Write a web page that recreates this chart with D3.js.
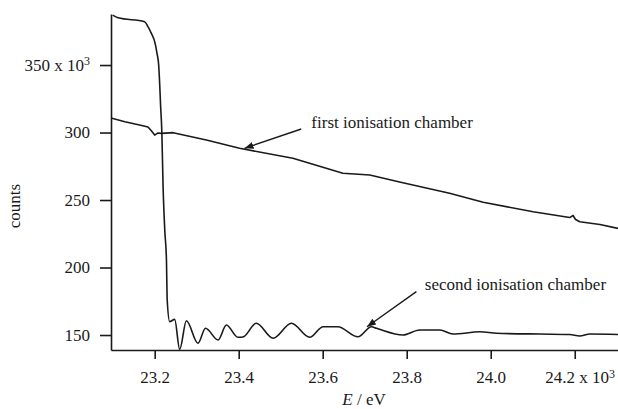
<!DOCTYPE html>
<html>
<head>
<meta charset="utf-8">
<script src="https://cdn.jsdelivr.net/npm/d3@7"></script>
<style>
  body { margin: 0; background: #fff; }
  text { font-family: "Liberation Serif", "Times New Roman", serif; fill: #1a1a1a; }
</style>
</head>
<body>
<script>
// first ionisation chamber (E in keV, counts in 10^3)
var firstE      = [23.096, 23.129, 23.164, 23.184, 23.192, 23.200, 23.207, 23.216, 23.244, 23.323, 23.402, 23.529, 23.648, 23.712, 23.783, 23.902, 23.982, 24.101, 24.188, 24.196, 24.202, 24.212, 24.260, 24.303];
var firstCounts = [310.7, 308.0, 305.6, 304.1, 301.3, 298.1, 299.6, 299.4, 299.9, 294.4, 288.3, 280.9, 269.8, 268.5, 263.3, 255.0, 248.3, 241.3, 237.0, 238.5, 235.6, 233.9, 231.9, 229.0];

// second ionisation chamber
var secondE      = [23.100, 23.113, 23.176, 23.184, 23.192, 23.200, 23.2055, 23.2095, 23.212, 23.214, 23.217, 23.220, 23.224, 23.228, 23.2298, 23.2357, 23.2476, 23.2595, 23.2755, 23.303, 23.321, 23.351, 23.3707, 23.398, 23.410, 23.442, 23.482, 23.5255, 23.569, 23.601, 23.636, 23.684, 23.716, 23.728, 23.791, 23.831, 23.879, 23.910, 23.974, 24.014, 24.117, 24.188, 24.212, 24.236, 24.303];
var secondCounts = [387.0, 385.0, 382.1, 378.4, 373.5, 367.3, 358.7, 350.0, 335.2, 320.4, 300.6, 259.9, 227.8, 205.6, 175.9, 159.9, 161.6, 139.4, 160.6, 143.9, 155.0, 146.3, 157.4, 148.3, 148.5, 158.7, 147.6, 158.7, 148.3, 156.1, 156.1, 148.7, 156.1, 155.0, 150.0, 153.7, 153.7, 150.7, 152.4, 151.3, 150.7, 150.4, 149.3, 150.7, 150.4];

var xTicks = [23.2, 23.4, 23.6, 23.8, 24.0, 24.2];
var yTicks = [150, 200, 250, 300, 350];

// annotations: label, label anchor, arrow tail, arrow head (data coords)
var annotLabels = ["first ionisation chamber", "second ionisation chamber"];
var annotText   = [[23.573, 303.6], [23.843, 183.3]];
var annotTail   = [[23.549, 302.6], [23.823, 182.1]];
var annotHead   = [[23.414, 288.3], [23.7055, 156.1]];

var width = 618, height = 409;

var svg = d3.select('body').append('svg')
    .attr('width', width)
    .attr('height', height);

var x = d3.scaleLinear().domain([23.096, 24.303]).range([111, 618]);
var y = d3.scaleLinear().domain([138.9, 387.8]).range([350, 14]);

svg.append('defs').append('marker')
    .attr('id', 'arrow')
    .attr('markerUnits', 'userSpaceOnUse')
    .attr('markerWidth', 10)
    .attr('markerHeight', 8)
    .attr('refX', 9)
    .attr('refY', 4)
    .attr('orient', 'auto')
  .append('path')
    .attr('d', 'M0,0.5 L9,4 L0,7.5 Z')
    .attr('fill', '#1a1a1a');

// axes
var yAxis = svg.append('g')
    .attr('transform', 'translate(111,0)')
    .call(d3.axisLeft(y).tickValues(yTicks).tickSize(11).tickSizeOuter(0).tickPadding(10));

var xAxis = svg.append('g')
    .attr('transform', 'translate(0,350)')
    .call(d3.axisBottom(x).tickValues(xTicks).tickSize(9).tickSizeOuter(0).tickPadding(12)
      .tickFormat(d3.format('.1f')));

[yAxis, xAxis].forEach(function(ax) {
  ax.select('.domain').attr('stroke', '#1a1a1a').attr('stroke-width', 1.6);
  ax.selectAll('.tick line').attr('stroke', '#1a1a1a').attr('stroke-width', 1.6);
  ax.selectAll('.tick text')
    .attr('font-family', '"Liberation Serif", "Times New Roman", serif')
    .attr('font-size', 17)
    .attr('fill', '#1a1a1a');
});

// "x 10^3" on the top y tick and the last x tick
yAxis.selectAll('.tick text').filter(function(d) { return d === 350; })
    .text(null)
    .call(function(t) {
      t.append('tspan').text('350 x 10');
      t.append('tspan').attr('dy', '-0.5em').attr('font-size', 12).text('3');
    });

xAxis.selectAll('.tick text').filter(function(d) { return d === 24.2; })
    .text(null)
    .attr('text-anchor', 'start')
    .attr('x', -30)
    .call(function(t) {
      t.append('tspan').text('24.2 x 10');
      t.append('tspan').attr('dy', '-0.45em').attr('font-size', 12).text('3');
    });

// curves
var line = d3.line()
    .x(function(d) { return x(d[0]); })
    .y(function(d) { return y(d[1]); });

svg.append('path')
    .datum(d3.zip(firstE, firstCounts))
    .attr('fill', 'none')
    .attr('stroke', '#1a1a1a')
    .attr('stroke-width', 1.6)
    .attr('stroke-linejoin', 'round')
    .attr('d', line);

svg.append('path')
    .datum(d3.zip(secondE, secondCounts))
    .attr('fill', 'none')
    .attr('stroke', '#1a1a1a')
    .attr('stroke-width', 1.6)
    .attr('stroke-linejoin', 'round')
    .attr('d', line.curve(d3.curveMonotoneX));

// annotations
annotLabels.forEach(function(label, i) {
  svg.append('line')
      .attr('x1', x(annotTail[i][0])).attr('y1', y(annotTail[i][1]))
      .attr('x2', x(annotHead[i][0])).attr('y2', y(annotHead[i][1]))
      .attr('stroke', '#1a1a1a')
      .attr('stroke-width', 1.4)
      .attr('marker-end', 'url(#arrow)');
  svg.append('text')
      .attr('x', x(annotText[i][0]))
      .attr('y', y(annotText[i][1]))
      .attr('font-size', 17)
      .text(label);
});

// axis titles
svg.append('text')
    .attr('transform', 'translate(20,206) rotate(-90)')
    .attr('text-anchor', 'middle')
    .attr('font-size', 17)
    .text('counts');

var xt = svg.append('text')
    .attr('x', 364)
    .attr('y', 405)
    .attr('text-anchor', 'middle')
    .attr('font-size', 17);
xt.append('tspan').attr('font-style', 'italic').text('E');
xt.append('tspan').text(' / eV');
</script>
</body>
</html>
